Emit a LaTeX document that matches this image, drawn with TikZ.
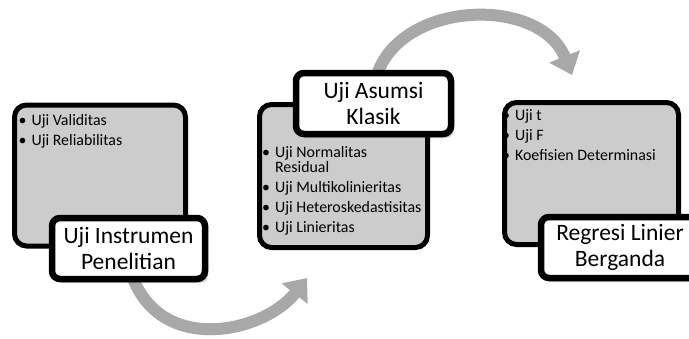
\documentclass[tikz,border=0pt]{standalone}
\usepackage{fontspec}
\setmainfont{Carlito}
\usepackage{xcolor}
\usetikzlibrary{arrows.meta}
\usetikzlibrary{shadows}
\usetikzlibrary{math}

\definecolor{boxgray}{RGB}{204,204,204}
\definecolor{arrowgray}{RGB}{168,168,168}

\newcommand{\itm}[1]{\textbullet\hspace{5pt}#1}
\newcommand{\itmcont}[1]{\phantom{\textbullet}\hspace{5pt}#1}

\begin{document}
\begin{tikzpicture}[x=1pt, y=-1pt,
  stagebox/.style={draw=black, line width=5pt, fill=boxgray, rounded corners=12pt, inner sep=0pt},
  titlebox/.style={draw=black, line width=6.5pt, fill=white, rounded corners=8pt,
    minimum width=153pt, minimum height=61pt, align=center, inner sep=0pt,
    font=\fontsize{23.5}{26}\selectfont,
    drop shadow={shadow xshift=3pt, shadow yshift=-4pt, opacity=0.3, fill=black!60}},
  listtext/.style={anchor=north west, align=left, inner sep=0pt, font=\fontsize{15.9}{15}\selectfont},
  flowarrow/.style={draw=arrowgray, line width=12pt, -{Triangle[length=20pt 0, width=32pt 0]}}
]
\tikzmath{
\w=171;
\h=143;
}
\useasboundingbox (0,0) rectangle (689,338);

% arrows between the stages
\coordinate (instrout) at (128,262);
\coordinate (asumsiin) at (307,278);
\coordinate (asumsiout) at (376,78);
\coordinate (regresiin) at (572,75);
\draw[flowarrow] (instrout) .. controls (150,358) and (262,335) .. (asumsiin);
\draw[flowarrow] (asumsiout) .. controls (398,0) and (540,-5) .. (regresiin);

% gray boxes
\node[stagebox, minimum width=\w, minimum height=\h-2] (instr) at (100,175.5) {};
\node[stagebox, minimum width=\w-3, minimum height=\h] (asumsi) at (343.5,176) {};
\node[stagebox, minimum width=\w+3, minimum height=\h-1] (regresi) at (591.5,173.5) {};

\node[listtext] (instrlist) at (18.5,114) {\itm{Uji Validitas}\\[5pt]\itm{Uji Reliabilitas}};
\node[listtext] (asumsilist) at (262,146.5) {\itm{Uji Normalitas}\\\itmcont{Residual}\\[5pt]
  \itm{Uji Multikolinieritas}\\[5pt]\itm{Uji Heteroskedastisitas}\\[5pt]\itm{Uji Linieritas}};
\node[listtext] (regresilist) at (502,109) {\itm{Uji t}\\[5pt]\itm{Uji F}\\[5pt]\itm{Koefisien Determinasi}};

% stage titles
\node[titlebox] (instrtitle) at (128.5,248.5) {Uji Instrumen\\Penelitian};
\node[titlebox, minimum width=155] (asumsititle) at (373.5,103.5) {Uji Asumsi\\Klasik};
\node[titlebox, minimum width=158] (regresititle) at (620,247.5) {Regresi Linier\\Berganda};
\end{tikzpicture}
\end{document}
